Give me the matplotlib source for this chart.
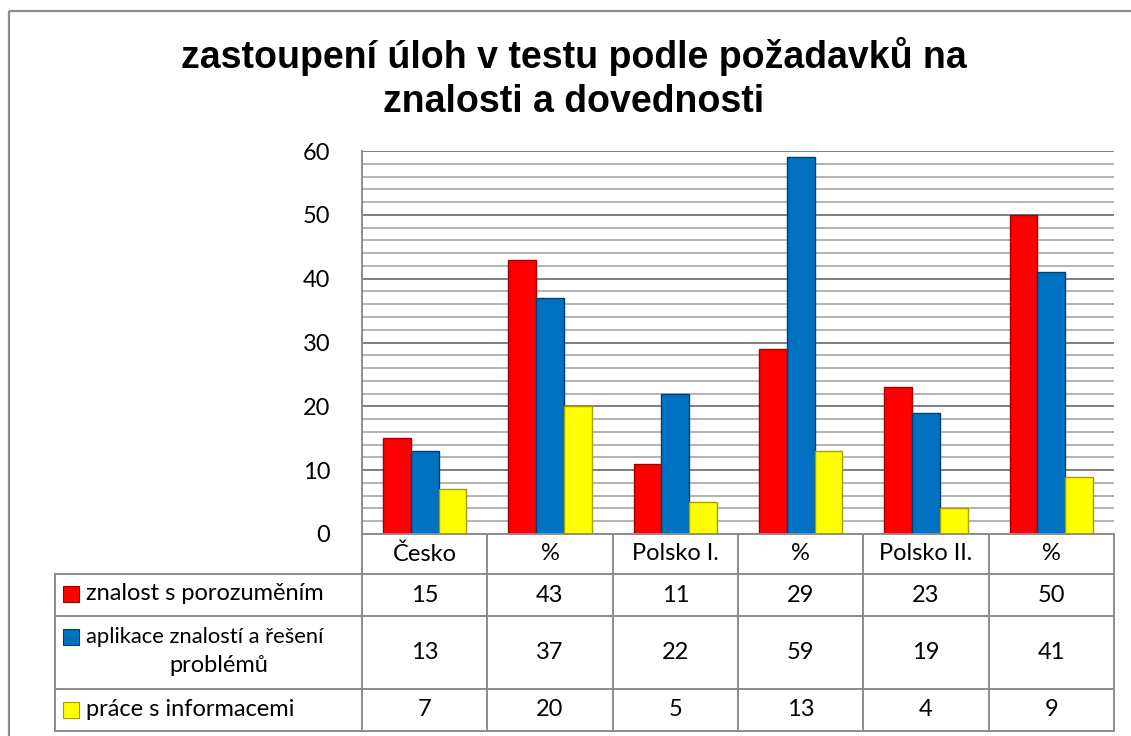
import matplotlib
matplotlib.use("Agg")
import matplotlib.pyplot as plt
from matplotlib.patches import Rectangle
from matplotlib.ticker import MultipleLocator
import numpy as np

categories = ["Česko", "%", "Polsko I.", "%", "Polsko II.", "%"]
series_line1 = ["znalost s porozuměním", "aplikace znalostí a řešení", "práce s informacemi"]
series_line2 = ["", "problémů", ""]
znalost = [15, 43, 11, 29, 23, 50]
aplikace = [13, 37, 22, 59, 19, 41]
prace = [7, 20, 5, 13, 4, 9]
title = "zastoupení úloh v testu podle požadavků na\nznalosti a dovednosti"

colors = ["#FF0000", "#0070C0", "#FFFF00"]
edges = ["#A00000", "#003F70", "#A0A000"]

W, H = 1131, 736
fig = plt.figure(figsize=(W / 100, H / 100), dpi=100)
fig.patch.set_facecolor("white")

TXT = ["Lato", "DejaVu Sans"]
FS = 17

def fx(px):
    return px / W

def fy(py):
    return 1 - py / H

# main plot area
pl, pr, pt, pb = 362, 1114, 151, 534
ax = fig.add_axes([fx(pl), fy(pb), fx(pr - pl), (pb - pt) / H])
ax.set_xlim(0, len(categories))
ax.set_ylim(0, 60)
ax.yaxis.set_major_locator(MultipleLocator(10))
ax.yaxis.set_minor_locator(MultipleLocator(2))
ax.grid(which="minor", axis="y", color="#a6a6a6", linewidth=1.2, zorder=0)
ax.grid(which="major", axis="y", color="#7f7f7f", linewidth=1.4, zorder=0)
ax.set_axisbelow(True)
for s in ["top", "right", "bottom"]:
    ax.spines[s].set_visible(False)
ax.spines["left"].set_color("#8c8c8c")
ax.spines["left"].set_linewidth(1.4)
ax.set_xticks([])
ax.tick_params(axis="y", which="both", length=0, pad=23, labelsize=FS)
for lab in ax.get_yticklabels():
    lab.set_family(TXT)

x = np.arange(len(categories)) + 0.5
bw = 0.222
for i, vals in enumerate([znalost, aplikace, prace]):
    ax.bar(x + (i - 1) * bw, vals, width=bw, color=colors[i],
           edgecolor=edges[i], linewidth=1.0, zorder=3)

fig.suptitle(title, x=fx(574), y=fy(37), va="top", fontsize=27,
             fontweight="bold", family="Liberation Sans", linespacing=1.27)

# table / frame overlay in pixel coordinates
tab = fig.add_axes([0, 0, 1, 1], facecolor="none")
tab.set_xlim(0, W)
tab.set_ylim(H, 0)
tab.axis("off")

# outer figure frame
tab.add_patch(Rectangle((9, 11), 1140, 760, fill=False, edgecolor="#8c8c8c",
                        linewidth=1.6, clip_on=True))

lc = "#8c8c8c"
lw = 1.4
tl = 55
col_w = (pr - pl) / len(categories)
col_edges = [pl + k * col_w for k in range(len(categories) + 1)]
rows = [534, 574, 616, 689, 731]

tab.plot([pl, pr], [rows[0], rows[0]], color=lc, lw=lw)
for r in rows[1:]:
    tab.plot([tl, pr], [r, r], color=lc, lw=lw)
for cx in col_edges:
    tab.plot([cx, cx], [rows[0], rows[-1]], color=lc, lw=lw)
tab.plot([tl, tl], [rows[1], rows[-1]], color=lc, lw=lw)

for k, c in enumerate(categories):
    tab.text(pl + (k + 0.5) * col_w, (rows[0] + rows[1]) / 2, c, ha="center",
             va="center", fontsize=FS, family=TXT)

all_vals = [znalost, aplikace, prace]
for r, vals in enumerate(all_vals):
    yc = (rows[r + 1] + rows[r + 2]) / 2
    for k, v in enumerate(vals):
        tab.text(pl + (k + 0.5) * col_w, yc, str(v), ha="center", va="center",
                 fontsize=FS, family=TXT)

# row labels with keys
key_y = [594, 637, 710]
for r in range(3):
    tab.add_patch(Rectangle((63, key_y[r] - 8), 16, 16, facecolor=colors[r],
                            edgecolor=edges[r], linewidth=0.8))
    if series_line2[r]:
        tab.text(86, key_y[r], series_line1[r], ha="left", va="center",
                 fontsize=FS - 1.2, family=TXT)
        tab.text(219, 666, series_line2[r], ha="center", va="center",
                 fontsize=FS, family=TXT)
    else:
        tab.text(86, key_y[r], series_line1[r], ha="left", va="center",
                 fontsize=FS, family=TXT)

fig.savefig("out.png", dpi=100)
